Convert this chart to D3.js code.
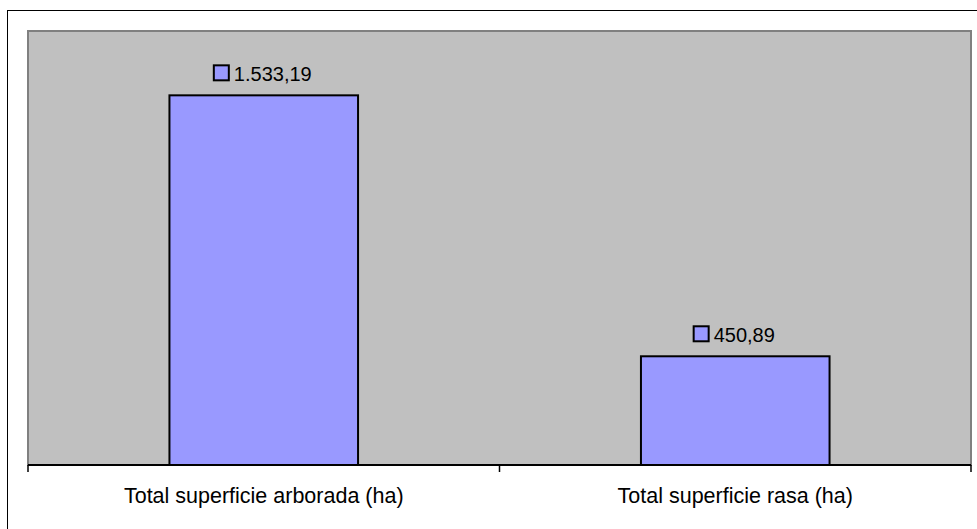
<!DOCTYPE html>
<html>
<head>
<meta charset="utf-8">
<script src="https://cdn.jsdelivr.net/npm/d3@7"></script>
<style>
  body { margin: 0; background: #fff; }
  text { font-family: "Liberation Sans", Arial, sans-serif; fill: #000; }
</style>
</head>
<body>
<svg id="chart" width="977" height="529"></svg>
<script>
// chart data
var categories = ["Total superficie arborada (ha)", "Total superficie rasa (ha)"];
var values = [1533.19, 450.89];
var valueLabels = ["1.533,19", "450,89"];
var yDomain = [0, 1800];

var svg = d3.select("#chart"),
  width = +svg.attr("width"),
  height = +svg.attr("height");

var plot = {left: 28, top: 31, right: 971, bottom: 465};

// outer chart frame (runs past the window on the right and bottom)
svg.append("rect")
  .attr("x", 7.5).attr("y", 10.5)
  .attr("width", width + 10).attr("height", height + 10)
  .attr("fill", "#fff").attr("stroke", "#000").attr("stroke-width", 1);

var x = d3.scaleBand()
  .domain(categories)
  .range([plot.left, plot.right])
  .paddingInner(0.6)
  .paddingOuter(0.3);

var y = d3.scaleLinear()
  .domain(yDomain)
  .range([plot.bottom, plot.top]);

// plot area background
svg.append("rect")
  .attr("x", plot.left).attr("y", plot.top)
  .attr("width", plot.right - plot.left).attr("height", plot.bottom - plot.top)
  .attr("fill", "#c0c0c0").attr("stroke", "#808080").attr("stroke-width", 2);

// bars
svg.append("g")
  .selectAll("rect")
  .data(values)
  .enter().append("rect")
  .attr("x", function(d, i) { return x(categories[i]); })
  .attr("y", function(d) { return y(d); })
  .attr("width", x.bandwidth())
  .attr("height", function(d) { return y(0) - y(d); })
  .attr("fill", "#9999ff")
  .attr("stroke", "#000")
  .attr("stroke-width", 2);

// x axis: ticks between categories
var xAxis = svg.append("g")
  .attr("transform", "translate(0," + plot.bottom + ")");

xAxis.append("line")
  .attr("x1", plot.left).attr("x2", plot.right)
  .attr("stroke", "#000").attr("stroke-width", 2);

var tickPos = [plot.left].concat(categories.map(function(c, i) {
  return i < categories.length - 1 ? (x(c) + x.bandwidth() + x(categories[i + 1])) / 2 : plot.right;
}));

xAxis.selectAll(".tick")
  .data(tickPos)
  .enter().append("line")
  .attr("class", "tick")
  .attr("x1", function(d) { return d; }).attr("x2", function(d) { return d; })
  .attr("y1", 0).attr("y2", 7)
  .attr("stroke", "#000").attr("stroke-width", 1.5);

xAxis.selectAll(".cat")
  .data(categories)
  .enter().append("text")
  .attr("class", "cat")
  .attr("x", function(d) { return x(d) + x.bandwidth() / 2; })
  .attr("y", 38)
  .attr("text-anchor", "middle")
  .style("font-size", "21.5px")
  .text(function(d) { return d; });

// data labels with legend key
var labels = svg.append("g")
  .selectAll("g")
  .data(values)
  .enter().append("g")
  .attr("transform", function(d, i) {
    return "translate(" + (x(categories[i]) + x.bandwidth() / 2) + "," + (y(d) - 14) + ")";
  });

labels.append("text")
  .attr("x", 9)
  .attr("text-anchor", "middle")
  .style("font-size", "20px")
  .text(function(d, i) { return valueLabels[i]; });

labels.each(function() {
  var g = d3.select(this);
  var bb = g.select("text").node().getBBox();
  g.append("rect")
    .attr("x", bb.x - 20).attr("y", -16)
    .attr("width", 15).attr("height", 15)
    .attr("fill", "#9999ff").attr("stroke", "#000").attr("stroke-width", 2);
});
</script>
</body>
</html>
